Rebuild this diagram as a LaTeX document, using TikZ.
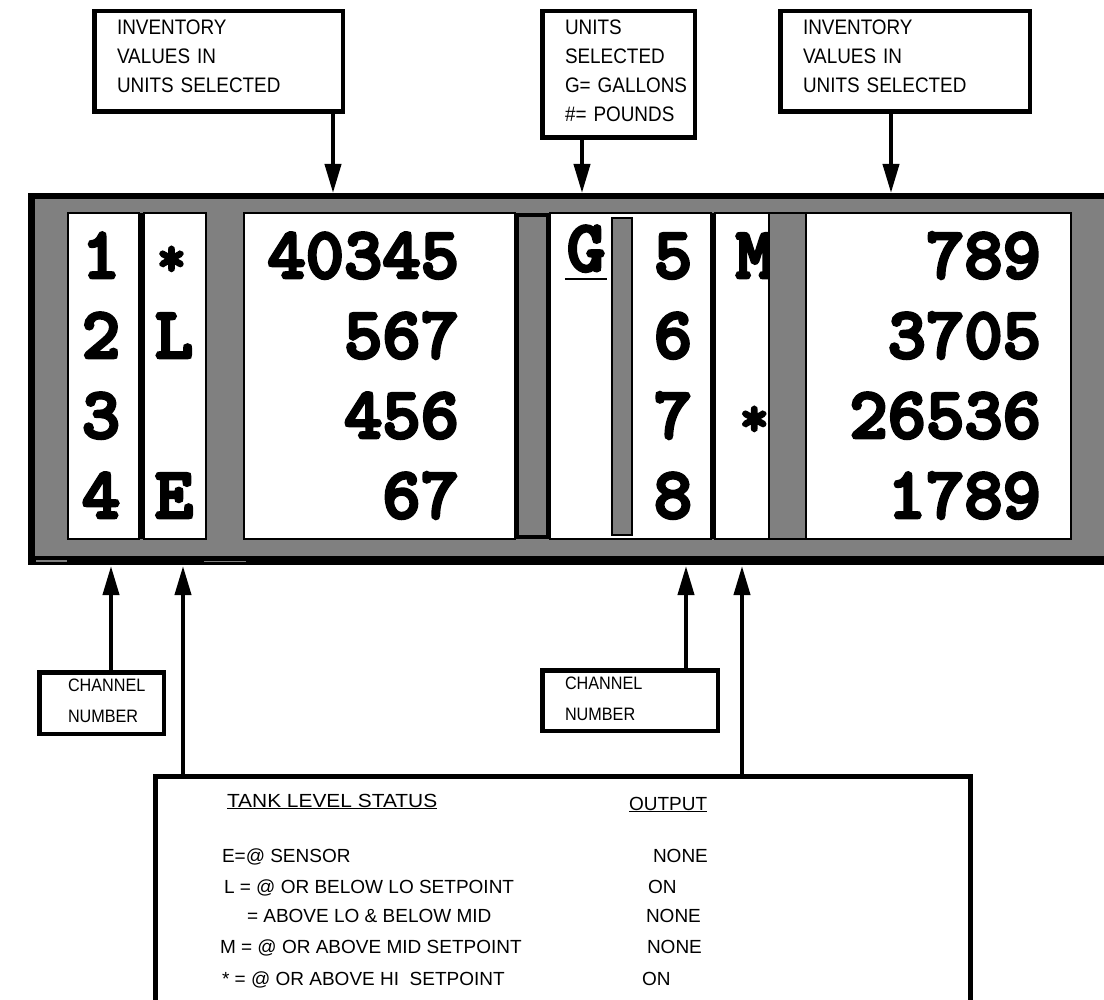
\documentclass[tikz,border=0pt]{standalone}
\usepackage{fontspec}
\setmainfont{Liberation Sans}
\newfontfamily\dispfont{lmmonolt10-bold.otf}[FakeBold=4]
\newfontfamily\narrowfont{Liberation Sans}[FakeStretch=0.9]
\newfontfamily\widefont{Liberation Sans}[FakeStretch=1.1]
\usetikzlibrary{arrows.meta,positioning}
\definecolor{PanelGray}{HTML}{808080}
\newcommand{\starmark}{{\fontsize{56}{56}\selectfont\raisebox{2pt}{*}\kern5pt}}

\begin{document}
\begin{tikzpicture}[x=1pt,y=-1pt,>={Triangle[length=29pt,width=16pt]},
  every node/.style={inner sep=0pt, outer sep=0pt},
  callout/.style={draw, line width=4.5pt, anchor=north west, align=left, inner xsep=22.75pt, font=\narrowfont\fontsize{21}{29}\selectfont},
  tag/.style={draw, line width=4.5pt, anchor=north west, align=left, font=\narrowfont\fontsize{18}{31}\selectfont},
  digit/.style={font=\dispfont\fontsize{73}{73}\selectfont, anchor=base},
  count/.style={font=\dispfont\fontsize{73}{73}\selectfont, anchor=base east},
  cell/.style={draw, line width=1.2pt, fill=white},
  bar/.style={draw, line width=1.2pt, fill=PanelGray},
  pointer/.style={->, line width=4pt},
  legend/.style={font=\fontsize{19}{19}\selectfont, anchor=base west}]
\useasboundingbox (0,0) rectangle (1104,1000);
\clip (0,0) rectangle (1104,1000);

% callouts above the display
\node[callout, minimum width=248.5, minimum height=100.5, text width=203, text height=5] (invA) at (94.25,11.25) {\mbox{INVENTORY}\\\mbox{VALUES IN}\\\mbox{UNITS SELECTED}};
\node[callout, minimum width=152.5, minimum height=126.5, text width=107, text height=8] (units) at (542.25,11.25) {\mbox{UNITS}\\\mbox{SELECTED}\\\mbox{G= GALLONS}\\\mbox{\#= POUNDS}};
\node[callout, minimum width=249.5, minimum height=100.5, text width=204, text height=5] (invB) at (780.25,11.25) {\mbox{INVENTORY}\\\mbox{VALUES IN}\\\mbox{UNITS SELECTED}};

% display panel
\fill (28,193) rectangle (1110,565);
\draw[bar] (34,198) rectangle (1110,557);
\draw[cell] (68,213) rectangle (139,539);
\fill (139,213) rectangle (144,539);
\draw[cell] (144,213) rectangle (206,539);
\draw[cell] (244,213) rectangle (515,539);
\draw[cell] (550,213) rectangle (711,539);
\fill (711,213) rectangle (715,539);
\draw[cell] (715,213) rectangle (769,539);
\draw[cell] (806,213) rectangle (1071,539);
\draw[PanelGray, line width=1.5pt] (36,561) -- (67,561);
\draw[PanelGray, line width=1pt] (204,561) -- (246,561);

\foreach \ch/\st/\val [count=\i] in {1/\starmark/40345, 2/L/567, 3/{}/456, 4/E/67}{
  \node[digit] (chA\i) at (101,198+80*\i) {\ch};
  \node[digit] (stA\i) at (174,198+80*\i) {\st};
  \node[count] (valA\i) at (459,198+80*\i) {\val};
}
\foreach \ch/\st/\val [count=\i] in {5/M/789, 6/{}/3705, 7/\starmark/26536, 8/{}/1789}{
  \node[digit] (chB\i) at (673,198+80*\i) {\ch};
  \node[count] (stB\i) at (774,198+80*\i) {\st};
  \node[count] (valB\i) at (1041,198+80*\i) {\val};
}
\node[digit] (unit) at (586,271) {G};
\draw[line width=2.5pt] ([yshift=-8pt,xshift=-2pt]unit.base west) -- ([yshift=-8pt,xshift=2pt]unit.base east);

\draw[bar, line width=3.5pt] (517,215) rectangle (548,537);
\draw[bar, line width=2pt] (612,218) rectangle (632,535);
\draw[bar] (769,213) rectangle (806,539);

% arrows into the display
\coordinate (topA) at (333,193);
\coordinate (topB) at (582,193);
\coordinate (topC) at (891,193);
\draw[pointer] (topA |- invA.south) -- (topA);
\draw[pointer] (topB |- units.south) -- (topB);
\draw[pointer] (topC |- invB.south) -- (topC);

% callouts below the display
\node[tag, minimum width=124.5, minimum height=61.5, text width=67, inner xsep=28.75pt, text height=9] (chanA) at (39.25,672.25) {\mbox{CHANNEL}\\\mbox{NUMBER}};
\node[tag, minimum width=175.5, minimum height=60.5, text width=130, inner xsep=22.75pt, text height=10] (chanB) at (542.25,670.25) {\mbox{CHANNEL}\\\mbox{NUMBER}};
\node[draw, line width=4.5pt, anchor=north west, minimum width=815, minimum height=240] (status) at (155.25,776.25) {};

\coordinate (botA) at (111,566);
\coordinate (botB) at (183,566);
\coordinate (botC) at (686,566);
\coordinate (botD) at (742,566);
\draw[pointer] (botA |- chanA.north) -- (botA);
\draw[pointer] (botB |- status.north) -- (botB);
\draw[pointer] (botC |- chanB.north) -- (botC);
\draw[pointer] (botD |- status.north) -- (botD);

% legend text
\node[legend, font=\widefont\fontsize{19}{19}\selectfont] (hdLevel) at (227,807) {\underline{TANK LEVEL STATUS}};
\node[legend] (hdOut) at (629,810) {\underline{OUTPUT}};
\node[legend] (lvE) at (222,862) {E=@ SENSOR};
\node[legend] (outE) at (653,862) {NONE};
\node[legend] (lvL) at (224,893) {L = @ OR BELOW LO SETPOINT};
\node[legend] (outL) at (648,893) {ON};
\node[legend] (lvMid) at (247,922) {= ABOVE LO \& BELOW MID};
\node[legend] (outMid) at (646,922) {NONE};
\node[legend] (lvM) at (220,953) {M = @ OR ABOVE MID SETPOINT};
\node[legend] (outM) at (647,953) {NONE};
\node[legend] (lvHi) at (222,985) {* = @ OR ABOVE HI\ \ SETPOINT};
\node[legend] (outHi) at (642,985) {ON};
\end{tikzpicture}
\end{document}
